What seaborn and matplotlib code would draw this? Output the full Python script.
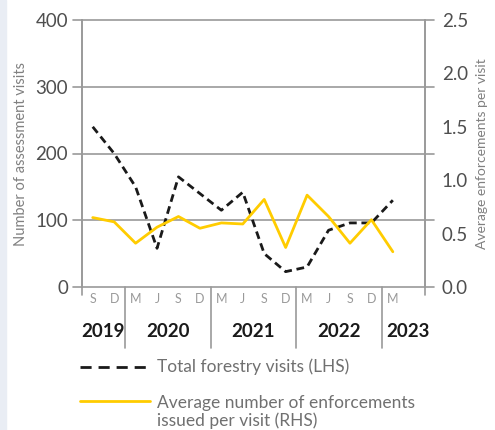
import matplotlib.pyplot as plt
import numpy as np
import pandas as pd
import seaborn as sns

# quarterly data, Sep 2019 to Mar 2023
months = ['S', 'D', 'M', 'J', 'S', 'D', 'M', 'J', 'S', 'D', 'M', 'J', 'S', 'D', 'M']
years = ['2019', '2020', '2021', '2022', '2023']
year_counts = [2, 4, 4, 4, 1]
visits = [240, 200, 150, 58, 165, 140, 115, 142, 50, 23, 30, 85, 96, 96, 130]
enforcements = [0.65, 0.61, 0.41, 0.56, 0.66, 0.55, 0.60, 0.59, 0.82, 0.37, 0.86, 0.66, 0.41, 0.63, 0.33]

df = pd.DataFrame({'idx': np.arange(len(months)), 'visits': visits, 'enf': enforcements})

sns.set_theme(style='white')
plt.rcParams['font.family'] = ['Lato', 'DejaVu Sans']

GRID = '#9a9a9a'
TXT = '#4f4f4f'
YELLOW = '#ffcc00'

fig = plt.figure(figsize=(4.95, 4.30), dpi=100)
fig.patches.append(plt.Rectangle((0, 0), 6 / 495, 1, transform=fig.transFigure,
                                 color='#e9edf4', zorder=0))
ax = fig.add_axes([82 / 495, 1 - 287 / 430, 343 / 495, 267 / 430])
ax2 = ax.twinx()

sns.lineplot(data=df, x='idx', y='visits', ax=ax, color='#1a1a1a', lw=2,
             linestyle=(0, (2.8, 1.7)), zorder=3)
sns.lineplot(data=df, x='idx', y='enf', ax=ax2, color=YELLOW, lw=2, zorder=3)

ax.set_xlim(-0.5, 15.5)
ax.set_ylim(0, 400)
ax2.set_ylim(0, 2.5)
ax.set_yticks([0, 100, 200, 300, 400])
ax2.set_yticks([0, 0.5, 1.0, 1.5, 2.0, 2.5])
ax2.set_yticklabels(['0.0', '0.5', '1.0', '1.5', '2.0', '2.5'])
ax.tick_params(axis='y', length=0, pad=10, labelsize=13.5, labelcolor=TXT)
ax2.tick_params(axis='y', length=0, pad=12, labelsize=13.5, labelcolor=TXT)
ax.set_xticks([])
ax.set_xlabel('')
ax2.set_xlabel('')
ax.set_ylabel('Number of assessment visits', fontsize=10.5, color='#808080', labelpad=5)
ax2.set_ylabel('Average enforcements per visit', fontsize=10, color='#808080', labelpad=6)

for a in (ax, ax2):
    for s in ('top', 'bottom'):
        a.spines[s].set_visible(False)
    for s in ('left', 'right'):
        a.spines[s].set_color(GRID)
        a.spines[s].set_linewidth(1.2)

# gridlines extending slightly past both spines
for v in [0, 100, 200, 300, 400]:
    ax.axhline(v, xmin=-0.025, xmax=1.025, color=GRID, lw=1.2, clip_on=False, zorder=1)
# small stubs below axis at the spines
for xa in (0, 1):
    ax.plot([xa, xa], [0, -0.03], transform=ax.transAxes, color=GRID, lw=1.2, clip_on=False)

# month labels
for i, m in enumerate(months):
    ax.text(i, -0.045, m, transform=ax.get_xaxis_transform(), ha='center', va='center',
            fontsize=9, color='#9a9a9a')

# year separators and labels
start = 0
for y, n in zip(years, year_counts):
    end = start + n
    left = -0.5 if start == 0 else start - 0.5
    right = 15.5 if end == len(months) else end - 0.5
    if end < len(months):
        ax.plot([end - 0.5, end - 0.5], [0, -0.23], transform=ax.get_xaxis_transform(),
                color=GRID, lw=1.2, clip_on=False)
    xc = (left + right) / 2 + (0.2 if end == len(months) else 0)
    ax.text(xc, -0.165, y, transform=ax.get_xaxis_transform(),
            ha='center', va='center', fontsize=13.5, fontweight='bold', color='#1a1a1a')
    start = end

# legend drawn manually below the chart
fig.lines.append(plt.Line2D([80 / 495, 146 / 495], [1 - 367 / 430] * 2, transform=fig.transFigure,
                            color='#1a1a1a', lw=2, linestyle=(0, (4, 2.5))))
fig.text(157 / 495, 1 - 367 / 430, 'Total forestry visits (LHS)', fontsize=12.5, color='#707070',
         va='center')
fig.lines.append(plt.Line2D([80 / 495, 150 / 495], [1 - 401 / 430] * 2, transform=fig.transFigure,
                            color=YELLOW, lw=2))
fig.text(157 / 495, 1 - 412 / 430, 'Average number of enforcements\nissued per visit (RHS)',
         fontsize=12.5, color='#707070', va='center', linespacing=1.1)

fig.savefig('out.png', dpi=100)
